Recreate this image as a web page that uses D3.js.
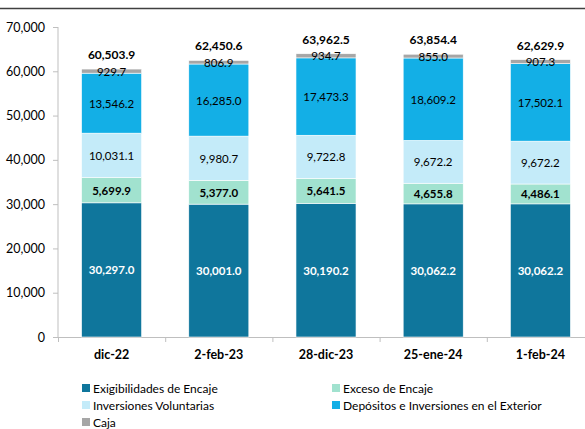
<!DOCTYPE html>
<html>
<head>
<meta charset="utf-8">
<script src="https://cdn.jsdelivr.net/npm/d3@7"></script>
<style>
  body { margin: 0; background: #fff; }
  svg { display: block; font-family: Lato, "Open Sans", sans-serif; }
</style>
</head>
<body>
<div id="chart"></div>
<script>
// data
var fechas = ["dic-22", "2-feb-23", "28-dic-23", "25-ene-24", "1-feb-24"];
var exigibilidades = [30297.0, 30001.0, 30190.2, 30062.2, 30062.2];
var exceso = [5699.9, 5377.0, 5641.5, 4655.8, 4486.1];
var inversiones = [10031.1, 9980.7, 9722.8, 9672.2, 9672.2];
var depositos = [13546.2, 16285.0, 17473.3, 18609.2, 17502.1];
var caja = [929.7, 806.9, 934.7, 855.0, 907.3];
var totales = [60503.9, 62450.6, 63962.5, 63854.4, 62629.9];
var yTicks = [0, 10000, 20000, 30000, 40000, 50000, 60000, 70000];

var series = [
  { name: "Exigibilidades de Encaje", values: exigibilidades, color: "#0f769c", text: "#ffffff", bold: true },
  { name: "Exceso de Encaje", values: exceso, color: "#a1e2cf", text: "#000000", bold: true },
  { name: "Inversiones Voluntarias", values: inversiones, color: "#c4ebf9", text: "#000000", bold: false },
  { name: "Depósitos e Inversiones en el Exterior", values: depositos, color: "#13afe6", text: "#000000", bold: false },
  { name: "Caja", values: caja, color: "#a6a6a6", text: "#000000", bold: false }
];

var width = 585, height = 429;
var fmt = d3.format(",.1f");

var svg = d3.select("#chart").append("svg")
    .attr("width", width)
    .attr("height", height);

// top border line
svg.append("line")
    .attr("x1", 0).attr("x2", width)
    .attr("y1", 8.5).attr("y2", 8.5)
    .attr("stroke", "#404040")
    .attr("stroke-width", 1.5);

var x = d3.scaleBand()
    .domain(fechas)
    .range([58, 594])
    .paddingInner(0.44)
    .paddingOuter(0.22);

var y = d3.scaleLinear()
    .domain([0, 70000])
    .range([337, 27]);

// stack the rows
var rows = fechas.map(function(f, i) {
  var r = { fecha: f };
  series.forEach(function(s) { r[s.name] = s.values[i]; });
  return r;
});
var stacked = d3.stack().keys(series.map(function(s) { return s.name; }))(rows);

// y axis
var yAxis = svg.append("g")
    .attr("transform", "translate(58,0)")
    .call(d3.axisLeft(y).tickValues(yTicks).tickSize(5).tickPadding(8).tickFormat(d3.format(",")));
yAxis.selectAll("text").attr("font-size", 12.5).attr("fill", "#000").style("font-family", "Lato, sans-serif");
yAxis.selectAll("line").attr("stroke", "#bfbfbf");
yAxis.select(".domain").attr("stroke", "#bfbfbf").attr("d", "M0," + y(70000) + "V" + y(0));

// x axis line + ticks between categories
var xg = svg.append("g");
xg.append("line")
    .attr("x1", 58).attr("x2", width)
    .attr("y1", y(0) + 0.5).attr("y2", y(0) + 0.5)
    .attr("stroke", "#bfbfbf");
xg.selectAll(".xt")
    .data(fechas)
    .enter().append("line")
    .attr("x1", function(d) { return x(d) - x.step() * 0.22 + 0.5; })
    .attr("x2", function(d) { return x(d) - x.step() * 0.22 + 0.5; })
    .attr("y1", y(0)).attr("y2", y(0) + 5)
    .attr("stroke", "#bfbfbf");
xg.selectAll(".xl")
    .data(fechas)
    .enter().append("text")
    .attr("x", function(d) { return x(d) + x.bandwidth() / 2; })
    .attr("y", 359)
    .attr("text-anchor", "middle")
    .attr("font-size", 12.5)
    .attr("font-weight", "bold")
    .text(function(d) { return d; });

// bars
var layers = svg.selectAll(".layer")
    .data(stacked)
    .enter().append("g")
    .attr("fill", function(d, i) { return series[i].color; });

layers.selectAll("rect")
    .data(function(d) { return d; })
    .enter().append("rect")
    .attr("x", function(d) { return x(d.data.fecha); })
    .attr("y", function(d) { return y(d[1]); })
    .attr("width", x.bandwidth())
    .attr("height", function(d) { return y(d[0]) - y(d[1]); })
    .attr("stroke", "#ffffff")
    .attr("stroke-width", 0.6);

// segment labels
stacked.forEach(function(layer, i) {
  var s = series[i];
  svg.append("g").selectAll("text")
    .data(layer)
    .enter().append("text")
    .attr("x", function(d) { return x(d.data.fecha) + x.bandwidth() / 2; })
    .attr("y", function(d) { return (y(d[0]) + y(d[1])) / 2 + 4.5; })
    .attr("text-anchor", "middle")
    .attr("font-size", 11.5)
    .attr("font-weight", s.bold ? "bold" : "normal")
    .attr("fill", s.text)
    .text(function(d) { return fmt(d[1] - d[0]); });
});

// totals
svg.append("g").selectAll("text")
    .data(totales)
    .enter().append("text")
    .attr("x", function(d, i) { return x(fechas[i]) + x.bandwidth() / 2; })
    .attr("y", function(d) { return y(d) - 10; })
    .attr("text-anchor", "middle")
    .attr("font-size", 12)
    .attr("font-weight", "bold")
    .text(function(d) { return fmt(d); });

// legend
var legendPos = [[82, 388], [332, 388], [82, 405], [332, 405], [82, 422]];
var legend = svg.append("g").selectAll("g")
    .data(series)
    .enter().append("g")
    .attr("transform", function(d, i) { return "translate(" + legendPos[i][0] + "," + legendPos[i][1] + ")"; });
legend.append("rect")
    .attr("x", 0).attr("y", -4)
    .attr("width", 8).attr("height", 8)
    .attr("fill", function(d) { return d.color; });
legend.append("text")
    .attr("x", 11).attr("y", 4.5)
    .attr("font-size", 12)
    .text(function(d) { return d.name; });
</script>
</body>
</html>
